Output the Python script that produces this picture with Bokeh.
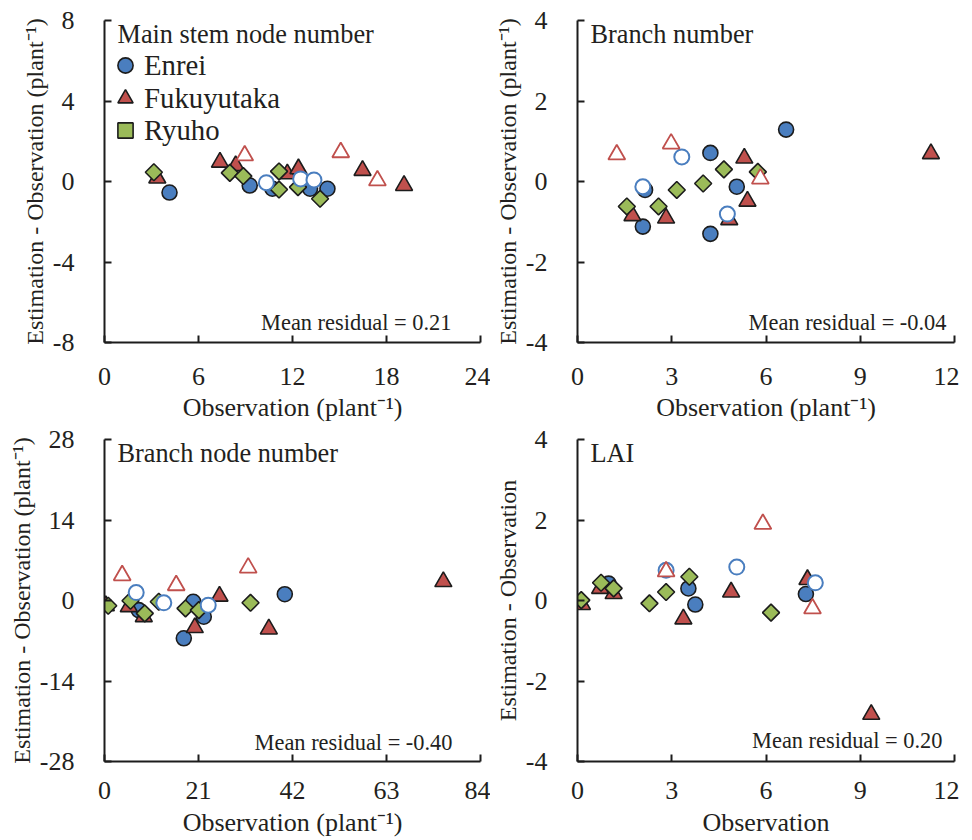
import math
from bokeh.plotting import figure
from bokeh.layouts import column, row
from bokeh.models import Range1d, FixedTicker, Label, Legend, LegendItem
from bokeh.embed import file_html
from bokeh.resources import INLINE

FONT = "Liberation Serif"
VARIETIES = ["Enrei", "Fukuyutaka", "Ryuho"]

# ---------- Panel 1: Main stem node number ----------
MSN_ENREI_OBS = [4.15, 9.27, 10.72, 13.12, 14.23]
MSN_ENREI_RES = [-0.55, -0.20, -0.36, -0.36, -0.36]
MSN_ENREI_OPEN_OBS = [10.33, 12.52, 13.37]
MSN_ENREI_OPEN_RES = [-0.06, 0.13, 0.08]
MSN_FUKU_OBS = [3.37, 7.37, 8.37, 11.67, 12.38, 16.47, 19.12]
MSN_FUKU_RES = [0.17, 0.96, 0.79, 0.38, 0.63, 0.55, -0.20]
MSN_FUKU_OPEN_OBS = [8.95, 15.08, 17.42]
MSN_FUKU_OPEN_RES = [1.29, 1.45, 0.05]
MSN_RYUHO_OBS = [3.15, 8.00, 8.86, 11.14, 11.14, 12.35, 13.76]
MSN_RYUHO_RES = [0.46, 0.43, 0.27, 0.50, -0.40, -0.28, -0.86]

# ---------- Panel 2: Branch number ----------
BN_ENREI_OBS = [6.64, 4.23, 5.07, 2.15, 2.08, 4.23]
BN_ENREI_RES = [1.29, 0.71, -0.13, -0.21, -1.12, -1.30]
BN_ENREI_OPEN_OBS = [3.32, 2.08, 4.77]
BN_ENREI_OPEN_RES = [0.61, -0.13, -0.81]
BN_FUKU_OBS = [5.31, 5.41, 1.75, 2.82, 4.83, 11.25]
BN_FUKU_RES = [0.58, -0.49, -0.85, -0.91, -0.95, 0.69]
BN_FUKU_OPEN_OBS = [1.25, 2.98, 5.82]
BN_FUKU_OPEN_RES = [0.67, 0.94, 0.07]
BN_RYUHO_OBS = [4.66, 5.74, 4.00, 3.16, 1.57, 2.58]
BN_RYUHO_RES = [0.30, 0.24, -0.05, -0.21, -0.62, -0.62]

# ---------- Panel 3: Branch node number ----------
BNN_ENREI_OBS = [7.66, 19.82, 22.18, 17.72, 40.28]
BNN_ENREI_RES = [-1.68, -0.22, -2.82, -6.57, 1.09]
BNN_ENREI_OPEN_OBS = [7.08, 13.25, 23.17]
BNN_ENREI_OPEN_RES = [1.38, -0.40, -0.81]
BNN_FUKU_OBS = [0.30, 5.43, 8.78, 25.69, 20.17, 36.71, 75.70]
BNN_FUKU_RES = [-0.90, -1.09, -2.82, 0.74, -4.72, -4.96, 3.28]
BNN_FUKU_OPEN_OBS = [3.95, 16.02, 32.10]
BNN_FUKU_OPEN_RES = [4.37, 2.64, 5.70]
BNN_RYUHO_OBS = [0.83, 5.81, 9.00, 12.13, 18.10, 21.07, 32.62]
BNN_RYUHO_RES = [-0.92, -0.05, -2.25, -0.22, -1.38, -1.68, -0.40]

# ---------- Panel 4: LAI ----------
LAI_ENREI_OBS = [0.99, 3.53, 3.75, 7.27]
LAI_ENREI_RES = [0.42, 0.30, -0.10, 0.16]
LAI_ENREI_OPEN_OBS = [2.82, 5.07, 7.57]
LAI_ENREI_OPEN_RES = [0.75, 0.83, 0.44]
LAI_FUKU_OBS = [0.14, 1.15, 0.72, 3.37, 4.89, 7.32, 9.35]
LAI_FUKU_RES = [-0.10, 0.17, 0.30, -0.46, 0.21, 0.52, -2.83]
LAI_FUKU_OPEN_OBS = [2.82, 5.90, 7.48]
LAI_FUKU_OPEN_RES = [0.72, 1.90, -0.20]
LAI_RYUHO_OBS = [0.12, 0.75, 1.15, 2.29, 2.82, 3.56, 6.16]
LAI_RYUHO_RES = [0.01, 0.44, 0.30, -0.07, 0.21, 0.59, -0.30]

# ---------- Axes ----------
MSN_XTICKS = [0, 6, 12, 18, 24]
MSN_YTICKS = [-8, -4, 0, 4, 8]
BN_XTICKS = [0, 3, 6, 9, 12]
BN_YTICKS = [-4, -2, 0, 2, 4]
BNN_XTICKS = [0, 21, 42, 63, 84]
BNN_YTICKS = [-28, -14, 0, 14, 28]
LAI_XTICKS = [0, 3, 6, 9, 12]
LAI_YTICKS = [-4, -2, 0, 2, 4]

TITLES = ["Main stem node number", "Branch number", "Branch node number", "LAI"]
MEAN_RESIDUALS = ["0.21", "-0.04", "-0.40", "0.20"]
X_LABELS = ["Observation (plant\u207b\u00b9)", "Observation (plant\u207b\u00b9)",
            "Observation (plant\u207b\u00b9)", "Observation"]
Y_LABELS = ["Estimation - Observation (plant\u207b\u00b9)", "Estimation - Observation (plant\u207b\u00b9)",
            "Estimation - Observation (plant\u207b\u00b9)", "Estimation - Observation"]

BLUE = "#4A7EBF"
RED = "#C0504D"
GREEN = "#9BBB59"
EDGE = "#1c1c1c"
TXT = "#231f20"
FRAME_H = 322


def style_axis(ax, standoff, label_size, label_standoff):
    ax.axis_line_width = 2
    ax.axis_line_color = EDGE
    ax.major_tick_line_width = 2
    ax.major_tick_line_color = EDGE
    ax.major_tick_in = 7
    ax.major_tick_out = 0
    ax.minor_tick_line_color = None
    ax.major_label_standoff = standoff
    ax.major_label_text_font = FONT
    ax.major_label_text_font_size = "26px"
    ax.major_label_text_color = TXT
    ax.axis_label_text_font = FONT
    ax.axis_label_text_font_size = label_size
    ax.axis_label_text_font_style = "normal"
    ax.axis_label_text_color = TXT
    ax.axis_label_standoff = label_standoff


def make_panel(idx, xticks, yticks, series, borders, frame_w, mean_x, mean_y,
               xtick_standoff, xlab_standoff, legend=False):
    bl, br, bt, bb = borders
    p = figure(frame_width=frame_w, frame_height=FRAME_H,
               x_range=Range1d(xticks[0], xticks[-1]), y_range=Range1d(yticks[0], yticks[-1]),
               output_backend="svg", toolbar_location=None,
               min_border_left=bl, min_border_right=br, min_border_top=bt, min_border_bottom=bb)
    p.outline_line_color = None
    p.grid.visible = False
    p.background_fill_color = "white"
    p.border_fill_color = "white"

    p.xaxis.ticker = FixedTicker(ticks=xticks, minor_ticks=[])
    p.yaxis.ticker = FixedTicker(ticks=yticks, minor_ticks=[])
    p.xaxis.major_label_overrides = {t: str(t) for t in xticks}
    p.yaxis.major_label_overrides = {t: str(t) for t in yticks}
    p.xaxis.axis_label = X_LABELS[idx]
    p.yaxis.axis_label = Y_LABELS[idx]
    style_axis(p.xaxis[0], xtick_standoff, "26px", xlab_standoff)
    style_axis(p.yaxis[0], 30, "24px", 2)

    (e_x, e_y), (f_x, f_y), (r_x, r_y), (eo_x, eo_y), (fo_x, fo_y) = series
    r_e = p.scatter(e_x, e_y, marker="circle", size=15, fill_color=BLUE,
                    line_color=EDGE, line_width=1.6)
    r_f = p.scatter(f_x, f_y, marker="triangle", size=17, fill_color=RED,
                    line_color=EDGE, line_width=1.6)
    r_r = p.scatter(r_x, r_y, marker="square", size=12, angle=math.pi / 4, fill_color=GREEN,
                    line_color=EDGE, line_width=1.6)
    p.scatter(eo_x, eo_y, marker="circle", size=15, fill_color="white",
              line_color=BLUE, line_width=2)
    p.scatter(fo_x, fo_y, marker="triangle", size=17, fill_color="white",
              line_color=RED, line_width=1.8)

    p.add_layout(Label(x=13, y=FRAME_H - 14, x_units="screen", y_units="screen",
                       text=TITLES[idx], text_font=FONT, text_font_size="26.3px",
                       text_color=TXT, text_baseline="alphabetic"))
    p.add_layout(Label(x=mean_x, y=mean_y, x_units="screen", y_units="screen",
                       text="Mean residual = " + MEAN_RESIDUALS[idx], text_font=FONT,
                       text_font_size="22.4px", text_color=TXT, text_align="right",
                       text_baseline="alphabetic"))

    if legend:
        renderers = [r_e, r_f, r_r]
        legend_bottoms = [258, 225, 193]
        for name, rend, yb in zip(VARIETIES, renderers, legend_bottoms):
            lg = Legend(items=[LegendItem(label=name, renderers=[rend])],
                        location=(2, yb), orientation="vertical",
                        glyph_width=38, glyph_height=38, padding=0, margin=0,
                        label_standoff=0, label_text_font=FONT, label_text_font_size="28.8px",
                        label_text_color=TXT, border_line_color=None, background_fill_alpha=0)
            p.add_layout(lg)
    return p


p1 = make_panel(0, MSN_XTICKS, MSN_YTICKS,
                [(MSN_ENREI_OBS, MSN_ENREI_RES), (MSN_FUKU_OBS, MSN_FUKU_RES),
                 (MSN_RYUHO_OBS, MSN_RYUHO_RES), (MSN_ENREI_OPEN_OBS, MSN_ENREI_OPEN_RES),
                 (MSN_FUKU_OPEN_OBS, MSN_FUKU_OPEN_RES)],
                (104, 10, 20, 84), 376, 347, 20, 25, 5, legend=True)
p2 = make_panel(1, BN_XTICKS, BN_YTICKS,
                [(BN_ENREI_OBS, BN_ENREI_RES), (BN_FUKU_OBS, BN_FUKU_RES),
                 (BN_RYUHO_OBS, BN_RYUHO_RES), (BN_ENREI_OPEN_OBS, BN_ENREI_OPEN_RES),
                 (BN_FUKU_OPEN_OBS, BN_FUKU_OPEN_RES)],
                (87, 5, 20, 84), 377, 369, 20, 25, 5)
p3 = make_panel(2, BNN_XTICKS, BNN_YTICKS,
                [(BNN_ENREI_OBS, BNN_ENREI_RES), (BNN_FUKU_OBS, BNN_FUKU_RES),
                 (BNN_RYUHO_OBS, BNN_RYUHO_RES), (BNN_ENREI_OPEN_OBS, BNN_ENREI_OPEN_RES),
                 (BNN_FUKU_OPEN_OBS, BNN_FUKU_OPEN_RES)],
                (104, 10, 13, 10), 376, 348, 19, 20, 6)
p4 = make_panel(3, LAI_XTICKS, LAI_YTICKS,
                [(LAI_ENREI_OBS, LAI_ENREI_RES), (LAI_FUKU_OBS, LAI_FUKU_RES),
                 (LAI_RYUHO_OBS, LAI_RYUHO_RES), (LAI_ENREI_OPEN_OBS, LAI_ENREI_OPEN_RES),
                 (LAI_FUKU_OPEN_OBS, LAI_FUKU_OPEN_RES)],
                (87, 5, 13, 10), 377, 365, 21, 20, 6)

layout = column(row(p1, p2), row(p3, p4))
open("out.html", "w").write(file_html(layout, INLINE))
